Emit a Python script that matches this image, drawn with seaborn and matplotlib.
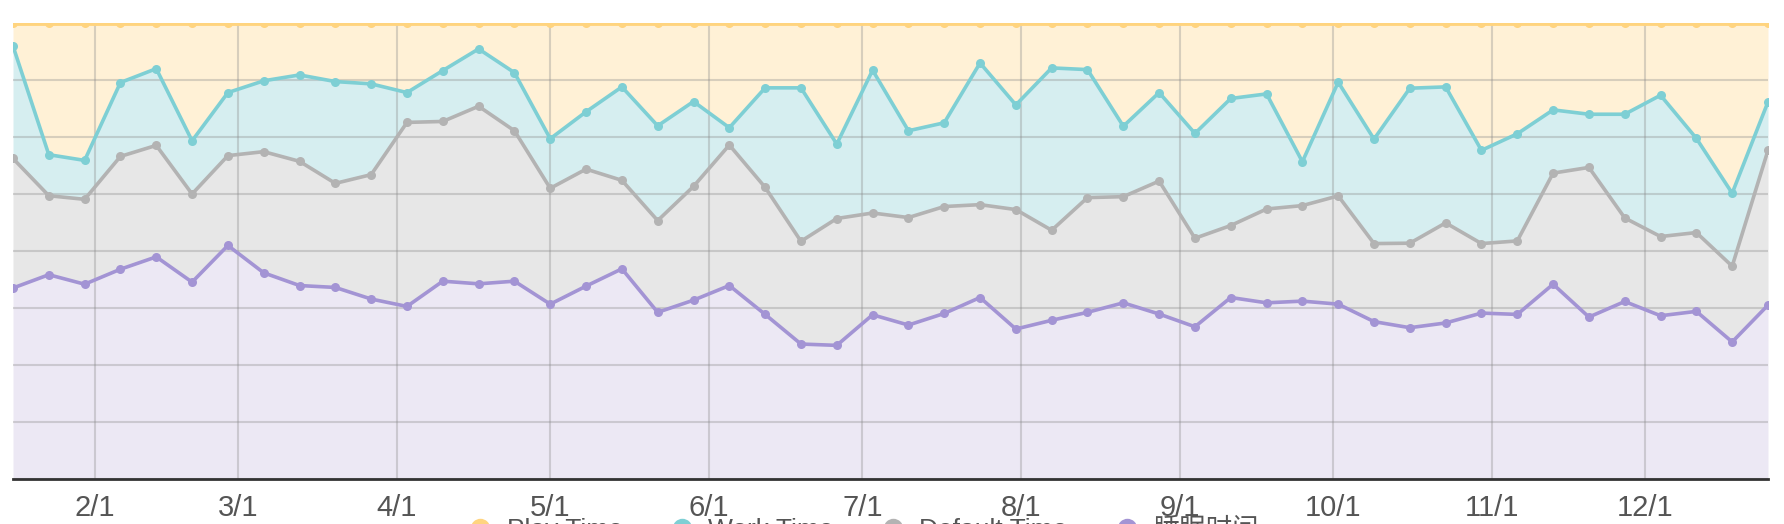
import numpy as np
import pandas as pd
import matplotlib
matplotlib.use("Agg")
import matplotlib.pyplot as plt
from matplotlib.lines import Line2D
import seaborn as sns
from matplotlib import font_manager

# === Data (hours per day, weekly samples) ===
dates = pd.date_range("2017-01-16", periods=50, freq="7D")

sleep_hours = [10.03, 10.73, 10.23, 11.02, 11.67, 10.34, 12.27, 10.83, 10.16, 10.06,
               9.45, 9.06, 10.39, 10.25, 10.39, 9.18, 10.13, 11.04, 8.75, 9.39,
               10.16, 8.64, 7.08, 7.01, 8.62, 8.08, 8.69, 9.53, 7.87, 8.33,
               8.75, 9.25, 8.66, 7.99, 9.53, 9.25, 9.34, 9.18, 8.26, 7.94,
               8.19, 8.71, 8.64, 10.23, 8.50, 9.32, 8.57, 8.80, 7.19, 9.13]
default_hours = [6.82, 4.16, 4.47, 5.94, 5.87, 4.64, 4.73, 6.38, 6.54, 5.48,
                 6.55, 9.69, 8.41, 9.35, 7.92, 6.10, 6.16, 4.66, 4.83, 5.99,
                 7.40, 6.69, 5.41, 6.68, 5.36, 5.66, 5.63, 4.89, 6.29, 4.74,
                 6.04, 5.59, 7.00, 4.66, 3.79, 4.94, 5.03, 5.70, 4.11, 4.45,
                 5.27, 3.66, 3.87, 5.85, 7.88, 4.40, 4.17, 4.15, 3.99, 8.15]
work_hours = [5.92, 2.16, 2.05, 3.89, 4.04, 2.80, 3.32, 3.73, 4.55, 5.36,
              4.78, 1.57, 2.68, 3.02, 3.06, 2.61, 3.02, 4.92, 4.99, 4.47,
              0.91, 5.24, 8.08, 3.92, 7.52, 4.57, 4.41, 7.46, 5.51, 8.55,
              6.74, 3.71, 4.66, 5.52, 6.69, 6.06, 2.31, 5.99, 5.50, 8.16,
              7.16, 4.91, 5.64, 3.33, 2.80, 5.46, 7.44, 4.96, 3.84, 2.55]
play_hours = [1.23, 6.95, 7.25, 3.15, 2.42, 6.22, 3.68, 3.06, 2.75, 3.10,
              3.22, 3.68, 2.52, 1.38, 2.63, 6.11, 4.69, 3.38, 5.43, 4.15,
              5.53, 3.43, 3.43, 6.39, 2.50, 5.69, 5.27, 2.12, 4.33, 2.38,
              2.47, 5.45, 3.68, 5.83, 3.99, 3.75, 7.32, 3.13, 6.13, 3.45,
              3.38, 6.72, 5.85, 4.59, 4.82, 4.82, 3.82, 6.09, 8.98, 4.17]

series_names = ["睡眠时间", "Default Time", "Work Time", "Play Time"]
month_labels = ["2/1", "3/1", "4/1", "5/1", "6/1", "7/1", "8/1", "9/1", "10/1", "11/1", "12/1"]

line_colors = ["#a394d4", "#b3b3b3", "#7ecfd4", "#ffd47f"]
fill_colors = ["#ece8f4", "#e7e7e7", "#d6eef0", "#fff1d6"]

# === Style ===
sns.set_theme(style="white")
installed = {f.name for f in font_manager.fontManager.ttflist}
base_font = "Liberation Sans Narrow" if "Liberation Sans Narrow" in installed else "Liberation Sans"
plt.rcParams["font.family"] = [base_font, "Noto Sans CJK SC", "DejaVu Sans"]

df = pd.DataFrame({
    "date": dates,
    "睡眠时间": sleep_hours,
    "Default Time": default_hours,
    "Work Time": work_hours,
    "Play Time": play_hours,
})
stack = df[series_names].cumsum(axis=1)

fig = plt.figure(figsize=(17.84, 5.24), dpi=100)
ax = fig.add_axes([13 / 1784, (524 - 478.5) / 524, (1768 - 13) / 1784, (478.5 - 22.7) / 524])

# stacked fills
lower = np.zeros(len(df))
for i, name in enumerate(series_names):
    upper = stack[name].values
    ax.fill_between(df["date"], lower, upper, color=fill_colors[i], linewidth=0, zorder=1)
    lower = upper

for i, name in enumerate(series_names):
    sns.lineplot(x=df["date"], y=stack[name], ax=ax, color=line_colors[i],
                 linewidth=2.6 if i < 3 else 3.5, marker="o", markersize=6.5,
                 markeredgewidth=0, zorder=3, clip_on=True)

ax.set_xlim(dates[0], dates[-1])
ax.set_ylim(0, 24)
ax.set_yticks(np.arange(0, 25, 3))
ax.set_yticklabels([])
month_ticks = pd.date_range("2017-02-01", periods=11, freq="MS")
ax.set_xticks(month_ticks)
ax.set_xticklabels(month_labels)
ax.set_axisbelow(False)
ax.grid(True, color="#888888", alpha=0.33, linewidth=1.5)
ax.tick_params(axis="both", length=0)
ax.tick_params(axis="x", labelsize=21, labelcolor="#555555", pad=11)
ax.set_xlabel("")
ax.set_ylabel("")

for side in ["top", "left", "right"]:
    ax.spines[side].set_visible(False)
ax.spines["bottom"].set_color("#333333")
ax.spines["bottom"].set_linewidth(2)
ax.spines["bottom"].set_zorder(4)

# legend sitting on the bottom edge (cut off like the original)
legend_order = ["Play Time", "Work Time", "Default Time", "睡眠时间"]
handles = [Line2D([0], [0], marker="o", color="none", markerfacecolor=line_colors[series_names.index(n)],
                  markeredgewidth=0, markersize=14) for n in legend_order]
fig.legend(handles, legend_order, loc="center", bbox_to_anchor=(0.483, -0.012), ncol=4,
           frameon=False, fontsize=19, handletextpad=0.4, columnspacing=1.65,
           handlelength=1.2, labelcolor="#555555")

fig.savefig("out.png", dpi=100)
